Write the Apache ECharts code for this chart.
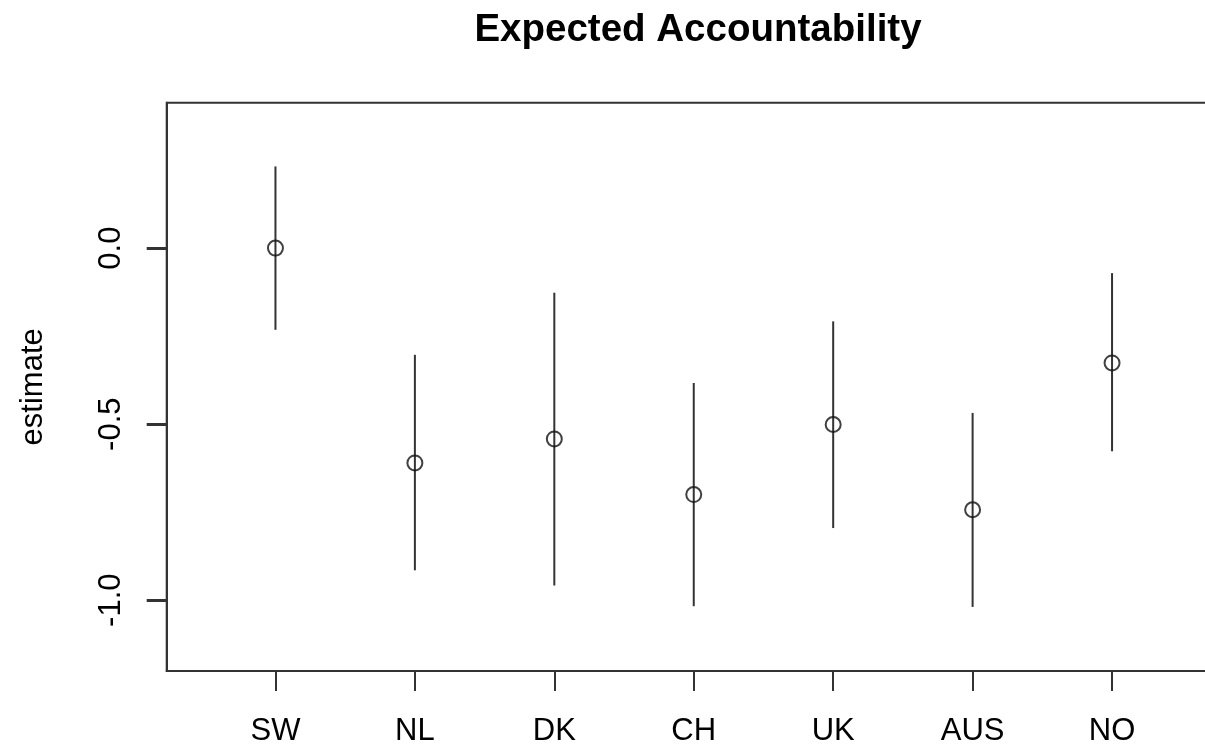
<!DOCTYPE html>
<html>
<head>
<meta charset="utf-8">
<script src="https://cdn.jsdelivr.net/npm/echarts@6/dist/echarts.min.js"></script>
<style>
html,body{margin:0;padding:0;background:#fff;overflow:hidden;}
#chart{width:1232px;height:747px;}
</style>
</head>
<body>
<div id="chart"></div>
<script>
const categories = ['SW', 'NL', 'DK', 'CH', 'UK', 'AUS', 'NO'];
const estimate = [0.0, -0.610, -0.542, -0.700, -0.501, -0.743, -0.326];
const lower = [-0.232, -0.915, -0.958, -1.017, -0.795, -1.019, -0.577];
const upper = [0.232, -0.303, -0.127, -0.383, -0.208, -0.468, -0.071];
const yTicks = [-1.0, -0.5, 0.0];
const xPositions = [1, 2, 3, 4, 5, 6, 7];

const FONT = 'Liberation Sans, Arial, Helvetica, sans-serif';
const chart = echarts.init(document.getElementById('chart'), null, {renderer: 'canvas', width: 1232, height: 747});

const pointData = xPositions.map((x, i) => [x, estimate[i]]);
const barData = xPositions.map((x, i) => [x, lower[i], upper[i]]);

// main plot scale
const Y_MIN = -1.201, Y_MAX = 0.413;
const GRID_TOP = 102.7, GRID_H = 569;
// tick-only grid spanning exactly the tick range [-1, 0] of the main scale
const pxPerUnit = GRID_H / (Y_MAX - Y_MIN);
const tickTop = GRID_TOP + (Y_MAX - yTicks[yTicks.length - 1]) * pxPerUnit;
const tickH = (yTicks[yTicks.length - 1] - yTicks[0]) * pxPerUnit;

chart.setOption({
  animation: false,
  backgroundColor: '#ffffff',
  title: {
    text: 'Expected Accountability',
    left: 693,
    textAlign: 'center',
    top: 6,
    textStyle: {fontFamily: FONT, fontWeight: 'bold', fontSize: 38.5, color: '#000'}
  },
  grid: [
    {
      left: 166.7, top: GRID_TOP, right: 11.2, height: GRID_H,
      show: true, borderColor: '#333', borderWidth: 2, backgroundColor: 'transparent',
      containLabel: false
    },
    {
      left: 166.7, top: tickTop, right: 11.2, height: tickH,
      show: false, containLabel: false
    }
  ],
  xAxis: [
    {
      type: 'value',
      gridIndex: 0,
      min: 0.22, max: 7.78,
      splitLine: {show: false},
      axisLine: {show: true, onZero: false, lineStyle: {color: '#333', width: 2}},
      axisTick: {show: true, length: 20, customValues: xPositions, lineStyle: {color: '#333', width: 2}},
      axisLabel: {
        show: true, customValues: xPositions, margin: 45,
        formatter: v => categories[Math.round(v) - 1] || '',
        fontFamily: FONT, fontSize: 31, color: '#000'
      }
    },
    {
      type: 'value', gridIndex: 1, min: 0, max: 1, show: false
    }
  ],
  yAxis: [
    {
      type: 'value',
      gridIndex: 0,
      min: Y_MIN, max: Y_MAX,
      name: 'estimate',
      nameLocation: 'middle',
      nameGap: 118,
      nameTextStyle: {fontFamily: FONT, fontSize: 31, color: '#000'},
      splitLine: {show: false},
      axisLine: {show: true, onZero: false, lineStyle: {color: '#333', width: 2}},
      axisTick: {show: true, length: 20, customValues: yTicks, lineStyle: {color: '#333', width: 2}},
      axisLabel: {
        show: true, customValues: yTicks, margin: 40, rotate: 90,
        formatter: v => v.toFixed(1),
        fontFamily: FONT, fontSize: 31, color: '#000'
      }
    },
    {
      type: 'value',
      gridIndex: 1,
      position: 'left',
      min: yTicks[0], max: yTicks[yTicks.length - 1], interval: 0.5,
      splitLine: {show: false},
      axisLine: {show: false, onZero: false},
      axisTick: {show: true, inside: false, length: 20, lineStyle: {color: '#333', width: 2}},
      axisLabel: {show: false}
    }
  ],
  series: [
    {
      type: 'custom',
      xAxisIndex: 0, yAxisIndex: 0,
      data: barData,
      encode: {x: 0, y: [1, 2]},
      renderItem: function (params, api) {
        const x = api.value(0);
        const p1 = api.coord([x, api.value(1)]);
        const p2 = api.coord([x, api.value(2)]);
        return {
          type: 'line',
          shape: {x1: p1[0], y1: p1[1], x2: p2[0], y2: p2[1]},
          style: {stroke: '#333', lineWidth: 2}
        };
      },
      z: 1
    },
    {
      type: 'scatter',
      xAxisIndex: 0, yAxisIndex: 0,
      data: pointData,
      symbol: 'circle',
      symbolSize: 15,
      itemStyle: {color: 'rgba(255,255,255,0)', borderColor: '#111', borderWidth: 2},
      z: 2
    }
  ]
});
</script>
</body>
</html>
